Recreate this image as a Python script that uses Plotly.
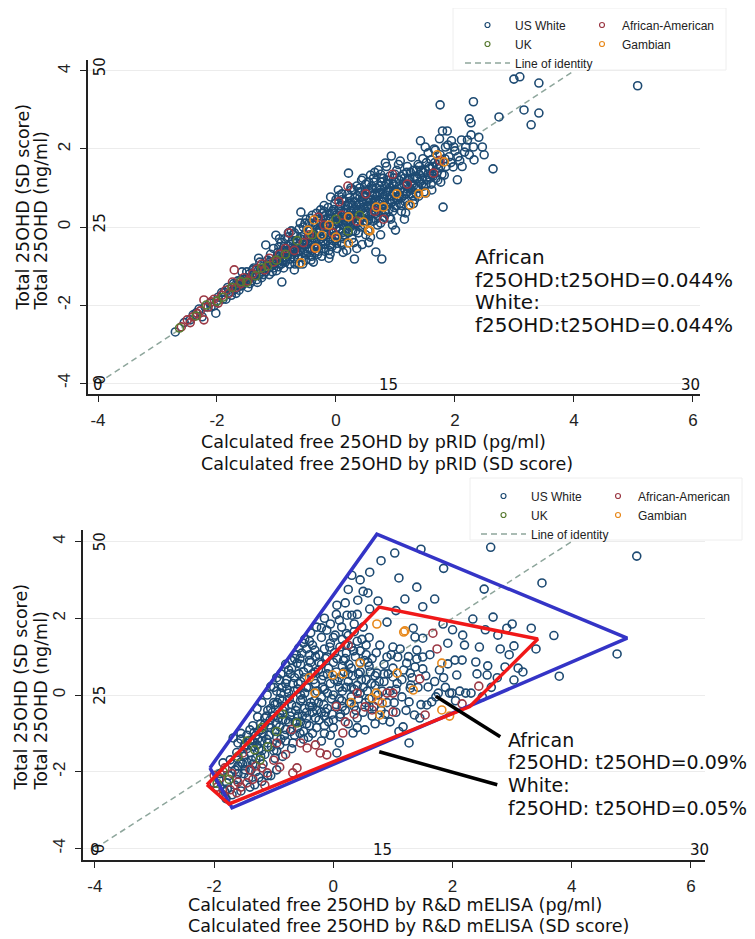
import plotly.graph_objects as go

# ---------------- data (SD scores) ----------------
p1_white = [
    (-2.70,-2.69),(-2.55,-2.45),(-2.45,-2.38),(-2.35,-2.20),(-2.25,-2.30),(-2.20,-2.05),(-2.12,-1.95),(-2.05,-2.02),
    (-2.02,-2.21),(-1.98,-1.80),(-1.92,-1.68),(-1.88,-1.67),(-1.85,-1.85),(-1.80,-1.60),(-1.76,-1.75),(-1.72,-1.45),
    (-1.70,-1.60),(-1.65,-1.38),(-1.62,-1.52),(-1.58,-1.15),(-1.55,-1.45),(-1.50,-1.30),(-1.48,-1.55),(-1.45,-1.20),
    (-1.42,-1.38),(-1.38,-1.05),(-1.35,-1.25),(-1.32,-1.42),(-1.30,-1.10),(-1.28,-0.90),(-1.25,-1.30),(-1.22,-1.00),
    (-1.18,-0.46),(-1.18,-1.15),(-1.15,-0.85),(-1.12,-1.22),(-1.10,-0.70),(-1.08,-1.00),(-1.05,-0.55),(-1.02,-0.88),
    (-1.01,-0.21),(-1.00,-1.12),(-0.98,-0.65),(-0.96,-0.51),(-0.95,-0.95),(-0.92,-0.40),(-0.91,-1.41),(-0.90,-0.78),
    (-0.88,-1.05),(-0.86,-0.30),(-0.84,-0.85),(-0.82,-0.60),(-0.80,-0.15),(-0.78,-0.95),(-0.76,-0.45),(-0.74,-0.70),
    (-0.72,-0.20),(-0.70,-1.10),(-0.68,-0.55),(-0.66,-0.35),(-0.64,-0.80),(-0.62,-0.05),(-0.60,-0.62),(-0.59,0.38),
    (-0.58,-0.25),(-0.56,-0.95),(-0.54,-0.45),(-0.52,0.10),(-0.50,-0.70),(-0.48,-0.30),(-0.46,-0.10),(-0.45,-0.55),
    (-0.43,0.22),(-0.42,-0.85),(-0.40,-0.40),(-0.38,0.05),(-0.36,-0.20),(-0.35,-0.65),(-0.33,0.35),(-0.32,-0.05),
    (-0.30,-0.50),(-0.28,0.15),(-0.26,0.44),(-0.25,-0.30),(-0.24,-0.75),(-0.22,0.00),(-0.20,0.28),(-0.18,-0.45),
    (-0.16,0.10),(-0.15,-0.20),(-0.13,0.50),(-0.12,-0.60),(-0.10,0.20),(-0.09,0.77),(-0.08,-0.10),(-0.06,0.40),
    (-0.05,-0.35),(-0.03,0.05),(-0.02,0.60),(0.00,-0.20),(0.00,0.30),(0.02,-0.55),(0.03,0.12),(0.04,0.95),
    (0.05,0.45),(0.06,-0.05),(0.08,0.25),(0.09,-0.40),(0.10,0.70),(0.12,0.05),(0.13,0.38),(0.14,-0.20),
    (0.16,0.55),(0.17,0.15),(0.18,-0.60),(0.20,0.85),(0.21,1.38),(0.22,0.30),(0.24,0.00),(0.25,0.62),
    (0.26,0.95),(0.27,-0.30),(0.28,0.20),(0.30,0.45),(0.31,-0.82),(0.32,0.75),(0.34,0.10),(0.35,1.05),
    (0.36,0.35),(0.38,-0.15),(0.39,0.58),(0.40,0.90),(0.42,0.25),(0.43,1.20),(0.44,-0.45),(0.46,0.50),
    (0.47,0.78),(0.48,0.05),(0.50,1.10),(0.51,0.40),(0.52,0.65),(0.54,-0.10),(0.55,0.95),(0.56,0.28),
    (0.58,1.33),(0.58,-0.26),(0.60,0.55),(0.61,0.80),(0.62,0.15),(0.64,1.15),(0.65,0.42),(0.66,0.70),
    (0.67,-0.64),(0.68,1.00),(0.70,0.30),(0.71,1.46),(0.72,0.60),(0.74,0.88),(0.75,0.10),(0.77,-0.82),
    (0.77,1.25),(0.78,0.50),(0.80,0.75),(0.82,1.05),(0.83,1.64),(0.84,0.35),(0.86,0.62),(0.88,0.95),
    (0.90,1.30),(0.92,0.20),(0.93,1.82),(0.94,0.80),(0.96,1.10),(0.98,0.50),(1.00,-0.08),(1.00,0.95),
    (1.02,1.45),(1.04,0.70),(1.06,1.20),(1.08,1.69),(1.10,0.40),(1.12,0.90),(1.14,1.35),(1.16,0.65),
    (1.17,0.36),(1.18,1.05),(1.20,1.55),(1.22,0.56),(1.24,1.25),(1.26,0.85),(1.27,1.79),(1.28,1.10),
    (1.30,1.45),(1.32,0.70),(1.34,1.00),(1.36,1.23),(1.38,1.60),(1.39,0.79),(1.40,1.35),(1.42,2.21),
    (1.44,1.10),(1.46,1.75),(1.48,0.90),(1.50,1.46),(1.50,2.05),(1.51,0.87),(1.53,1.20),(1.55,1.90),
    (1.57,1.50),(1.60,1.72),(1.61,0.95),(1.63,1.30),(1.65,2.00),(1.67,1.97),(1.70,1.60),(1.72,1.51),
    (1.74,2.26),(1.75,3.13),(1.76,1.15),(1.79,2.46),(1.80,0.51),(1.82,1.33),(1.84,2.05),(1.87,2.46),
    (1.90,1.80),(1.94,2.21),(1.97,1.54),(2.00,1.95),(2.04,1.21),(2.08,1.70),(2.11,2.23),(2.16,1.92),
    (2.21,2.23),(2.24,2.77),(2.24,1.85),(2.27,2.36),(2.27,2.67),(2.31,2.05),(2.31,3.21),(2.32,1.72),
    (2.40,2.30),(2.46,2.05),(2.49,1.85),(2.64,1.49),(2.74,2.82),(2.99,3.79),(3.09,3.85),(3.16,3.00),
    (3.28,2.62),(3.41,3.69),(3.41,2.92),(5.07,3.62),
    (-1.20,-1.05),(-1.10,-0.95),(-1.00,-0.78),(-0.95,-0.85),(-0.90,-0.60),(-0.85,-0.90),(-0.80,-0.70),(-0.75,-0.55),
    (-0.70,-0.80),(-0.65,-0.50),(-0.60,-0.30),(-0.55,-0.65),(-0.50,-0.45),(-0.45,-0.25),(-0.40,-0.60),(-0.35,-0.35),
    (-0.30,-0.15),(-0.25,-0.45),(-0.20,-0.20),(-0.15,0.00),(-0.10,-0.25),(-0.05,0.15),(0.00,-0.05),(0.05,0.20),
    (0.10,-0.15),(0.15,0.35),(0.20,0.10),(0.25,0.40),(0.30,0.05),(0.35,0.55),(0.40,0.20),(0.45,0.65),
    (0.50,0.30),(0.55,0.70),(0.60,0.35),(0.65,0.85),(0.70,0.50),(0.75,0.95),(0.80,0.55),(0.85,1.10),
    (0.90,0.70),(0.95,0.40),(1.00,1.15),(1.05,0.80),(1.10,1.00),(1.15,1.25),(1.20,0.90),(1.25,1.40),
    (1.30,1.05),(1.35,0.85),(1.40,1.55),(1.45,1.20),(1.55,1.35),(1.60,1.10),(1.70,1.40),(1.75,1.85),
    (1.85,1.55),(-0.60,0.10),(-0.40,0.30),(-0.20,0.55),(0.00,0.70),(0.20,0.55),(0.40,1.00),(0.60,1.05),
    (0.80,1.25),(-0.80,-0.25),(-0.55,0.00),(-0.30,0.20),(-1.30,-0.80),(-1.40,-1.10),(-1.50,-1.15),(-1.60,-1.35),
    (-1.70,-1.50),(-1.90,-1.85),(0.30,-0.40),(0.50,-0.20),(0.70,0.05),(0.90,0.25),(1.10,0.55),(1.30,0.60),
    (-0.10,-0.70),(0.10,-0.45),
]
p1_white_core = [
    (-1.25,-1.15),(-1.15,-0.95),(-1.05,-1.05),(-0.98,-0.75),(-0.92,-0.95),(-0.87,-0.50),(-0.83,-0.78),(-0.78,-0.60),
    (-0.73,-0.35),(-0.69,-0.95),(-0.65,-0.65),(-0.61,-0.45),(-0.57,-0.78),(-0.53,-0.20),(-0.49,-0.55),(-0.44,-0.05),
    (-0.41,-0.75),(-0.37,-0.28),(-0.34,0.10),(-0.31,-0.70),(-0.27,-0.05),(-0.23,0.35),(-0.21,-0.55),(-0.17,0.20),
    (-0.14,-0.35),(-0.11,0.35),(-0.07,-0.50),(-0.04,0.45),(-0.01,-0.30),(0.02,0.25),(0.05,-0.10),(0.07,0.55),
    (0.11,0.15),(0.13,-0.30),(0.15,0.65),(0.18,0.25),(0.21,-0.15),(0.23,0.75),(0.26,0.15),(0.29,0.55),
    (0.31,0.30),(0.33,-0.10),(0.36,0.80),(0.37,0.45),(0.41,0.00),(0.44,0.70),(0.47,0.35),(0.49,0.95),
    (0.52,0.15),(0.53,0.55),(0.57,0.90),(0.59,0.20),(0.62,0.65),(0.63,1.25),(0.67,0.35),(0.69,0.80),
    (0.73,1.05),(0.76,0.40),(0.79,0.85),(0.81,0.25),(0.85,0.90),(0.87,1.20),(0.89,0.45),(0.91,1.00),
    (0.95,0.65),(0.97,1.25),(1.01,0.55),(1.03,0.90),(1.07,0.60),(1.09,1.30),(1.13,0.80),(1.19,1.40),
    (1.23,1.00),(1.29,0.80),(1.33,1.30),(1.37,1.05),(1.43,1.45),(1.47,1.05),(1.52,1.65),(1.58,1.25),
    (1.62,1.55),(1.68,1.25),(1.73,1.70),(1.78,1.35),(1.83,1.75),(1.88,2.10),(1.93,1.65),(1.98,2.05),
    (2.05,1.80),(2.12,1.55),(2.18,2.05),(-0.95,-0.30),(-0.75,-0.10),(-0.50,0.20),(-0.25,0.10),(0.05,0.80),
    (0.25,1.00),(0.45,1.25),(0.65,1.40),(0.85,1.55),(1.05,1.60),(-0.62,-0.95),(-0.38,-0.90),(-0.12,-0.80),
    (0.12,-0.65),(0.35,-0.55),(0.55,-0.40),(0.75,-0.20),(0.95,0.05),(1.15,0.20),(-1.35,-1.10),(-1.45,-1.30),
    (-1.55,-1.35),(-1.65,-1.50),(-1.75,-1.65),(-1.82,-1.55),(-2.00,-1.90),(-2.10,-2.05),(-2.30,-2.10),(-2.40,-2.25),
]
p1_white_dense = [
    (-1.22,-1.22),(-1.17,-1.05),(-1.12,-0.90),(-1.07,-1.15),(-1.03,-0.95),(-0.97,-1.02),(-0.93,-0.70),(-0.89,-0.88),
    (-0.86,-0.68),(-0.81,-0.48),(-0.77,-0.82),(-0.72,-0.62),(-0.67,-0.42),(-0.63,-0.72),(-0.58,-0.52),(-0.54,-0.32),
    (-0.51,-0.85),(-0.47,-0.62),(-0.43,-0.40),(-0.39,-0.18),(-0.36,-0.50),(-0.32,-0.30),(-0.29,-0.62),(-0.26,-0.10),
    (-0.22,-0.38),(-0.19,-0.62),(-0.16,-0.12),(-0.13,0.22),(-0.09,-0.45),(-0.06,-0.05),(-0.02,0.35),(0.01,-0.42),
    (0.04,0.10),(0.08,0.40),(0.11,-0.25),(0.14,0.20),(0.17,0.45),(0.19,-0.05),(0.22,0.60),(0.25,0.25),
    (0.28,-0.10),(0.31,0.65),(0.34,0.40),(0.37,0.10),(0.40,0.75),(0.43,0.45),(0.46,0.15),(0.49,0.80),
    (0.52,0.50),(0.55,0.20),(0.58,0.70),(0.61,1.00),(0.64,0.50),(0.67,0.20),(0.70,0.85),(0.73,0.65),
    (0.76,1.15),(0.79,0.65),(0.82,0.40),(0.86,0.80),(0.89,1.10),(0.92,0.60),(0.96,0.90),(0.99,1.35),
    (1.02,0.75),(1.06,1.05),(1.10,0.75),(1.14,1.10),(1.18,0.85),(1.22,1.20),(1.27,0.95),(1.31,1.25),
    (1.35,1.45),(1.41,1.15),(1.46,1.40),(1.51,1.10),(1.56,1.55),(1.61,1.35),(1.66,1.65),(1.71,1.20),
    (1.76,1.55),(-1.45,-1.45),(-1.40,-1.25),(-1.33,-1.35),(-1.28,-1.20),(-1.52,-1.40),(-1.58,-1.50),(-1.63,-1.62),
    (-1.68,-1.70),(-0.70,-0.15),(-0.45,0.10),(-0.20,0.40),(0.10,0.85),(0.30,0.95),(0.55,1.15),(0.75,1.35),
]
p1_afam = [
    (-2.60,-2.56),(-2.50,-2.38),(-2.45,-2.45),(-2.40,-2.30),(-2.33,-2.22),(-2.28,-2.15),(-2.22,-2.38),(-2.22,-1.87),
    (-2.15,-2.05),(-2.10,-1.92),(-2.05,-1.85),(-1.98,-1.95),(-1.92,-1.75),(-1.85,-1.62),(-1.80,-1.70),(-1.74,-1.41),
    (-1.71,-1.10),(-1.68,-1.55),(-1.60,-1.45),(-1.55,-1.30),(-1.48,-1.38),(-1.40,-1.20),(-1.33,-1.08),(-1.25,-0.95),
    (-1.20,-1.10),(-1.12,-0.80),(-1.05,-0.90),(-0.95,-0.70),(-0.85,-0.55),(-0.79,-0.15),(-0.70,-0.60),(-0.55,-0.40),
    (-0.45,-0.20),(-0.35,-0.55),(-0.20,0.05),(-0.05,-0.15),(0.10,0.30),(0.20,1.05),(0.35,0.15),(0.50,0.85),
    (0.65,0.40),(0.80,0.20),(0.95,1.35),(1.20,1.10),(1.64,1.38),(1.75,1.70),(-0.30,0.25),(0.05,0.65),
]
p1_uk = [
    (-2.63,-2.59),(-2.35,-2.28),(-2.18,-2.00),(-2.00,-1.90),(-1.90,-1.80),(-1.75,-1.55),(-1.60,-1.40),(-1.50,-1.42),
    (-1.35,-1.25),(-1.15,-1.00),(-1.00,-0.85),(-0.85,-0.70),(-0.65,-0.35),(-0.40,-0.20),(0.00,0.20),(0.20,-0.10),
    (0.40,0.30),(-1.25,-1.05),
]
p1_gamb = [
    (-0.37,0.18),(-0.12,0.05),(-0.24,-0.21),(0.00,-0.26),(-0.34,-0.54),(-0.59,-0.92),(0.21,-0.41),(0.46,0.13),
    (0.55,-0.08),(0.68,0.51),(0.80,0.51),(1.02,0.85),(1.25,0.56),(1.39,0.85),(1.50,0.87),(1.70,1.85),
    (1.82,1.67),(0.21,0.26),(-0.47,-0.08),(0.57,-0.10),
]

p2_white = [
    (1.03,3.70),(1.47,3.80),(2.64,3.85),(5.09,3.62),(0.61,3.20),(1.40,2.81),(0.31,3.12),(0.58,2.66),
    (0.41,2.47),(0.75,2.45),(0.61,2.24),(0.06,2.34),(0.23,2.08),(0.31,2.08),(3.50,2.92),(2.53,2.76),
    (4.76,1.07),(3.79,0.49),(2.68,2.03),(2.34,1.98),(3.32,1.74),(3.00,1.85),(2.91,1.74),(2.76,1.56),
    (3.03,1.28),(3.10,0.70),(3.18,0.60),(2.88,0.73),(3.03,0.39),(2.59,0.76),(2.58,0.52),(2.41,0.55),
    (2.39,0.86),(2.17,1.56),(1.92,1.35),(2.04,0.91),(2.07,0.52),(2.16,0.91),(1.84,1.85),(1.92,0.81),
    (2.22,0.05),(2.31,0.05),(2.12,0.10),(1.95,0.05),(1.72,-0.05),(1.65,-0.18),(1.57,-0.26),(1.45,-0.60),
    (1.27,-1.25),(1.34,1.74),(1.37,1.51),(1.50,1.48),(1.40,1.17),(1.40,0.94),(1.50,0.99),(1.37,0.73),
    (1.50,0.68),(1.59,0.21),(1.30,0.26),(1.27,-0.18),(1.36,-0.52),(1.17,-0.83),(1.00,1.25),(0.78,1.30),
    (0.90,0.99),(1.08,0.99),(0.73,0.57),(1.00,0.47),(1.23,0.83),(1.29,0.57),(1.29,0.18),(1.76,0.05),
    (1.99,0.05),(2.80,1.20),(2.45,1.25),(2.65,0.20),(2.05,-0.15),(1.85,0.45),
    (-0.48,1.45),(-0.38,1.62),(-0.28,1.77),(-0.11,1.69),(0.14,1.77),(0.03,1.56),(0.50,1.77),(-0.20,1.50),
    (0.25,1.55),(0.40,1.40),(-0.35,1.30),(-0.05,1.35),(0.60,1.50),(0.10,1.95),(-0.15,2.00),(0.35,1.85),
    (-0.58,1.22),(-0.53,1.09),(-0.31,1.17),(-0.11,0.99),(0.11,1.25),(0.22,1.10),(0.30,1.25),(0.45,1.15),
    (0.55,1.05),(0.65,0.95),(-0.70,0.90),(-0.61,0.83),(-0.75,0.65),(-0.90,0.39),(-0.40,0.90),(-0.20,0.80),
    (0.00,0.85),(0.15,0.75),(0.30,0.70),(0.45,0.60),(0.60,0.75),(0.85,0.80),(-1.00,0.20),(-0.88,0.55),
    (-0.80,0.30),(-0.65,0.45),(-0.50,0.60),(-0.35,0.55),(-0.20,0.40),(-0.05,0.30),(0.10,0.45),(0.25,0.35),
    (0.40,0.25),(0.55,0.40),(0.70,0.25),(0.85,0.35),(0.95,0.10),(-1.11,0.00),(-1.20,-0.20),(-1.05,-0.35),
    (-0.90,-0.10),(-0.75,0.05),(-0.60,0.15),(-0.45,0.20),(-0.30,0.05),(-0.15,0.15),(0.00,0.00),(0.15,0.10),
    (0.30,-0.05),(0.45,0.05),(0.60,-0.10),(0.75,0.00),(0.90,-0.20),(1.05,0.15),(1.15,-0.05),(-1.27,-0.57),
    (-1.28,-0.35),(-1.15,-0.75),(-1.00,-0.55),(-0.85,-0.40),(-0.70,-0.25),(-0.55,-0.15),(-0.40,-0.30),(-0.25,-0.20),
    (-0.10,-0.35),(0.05,-0.25),(0.20,-0.40),(0.35,-0.30),(0.50,-0.45),(0.65,-0.55),(0.80,-0.40),(1.05,-0.45),
    (-1.40,-0.91),(-1.30,-1.05),(-1.20,-1.20),(-1.06,-0.65),(-0.90,-0.83),(-0.75,-0.70),(-0.60,-0.55),(-0.45,-0.75),
    (-0.30,-0.60),(-0.15,-0.80),(0.00,-0.65),(0.11,-0.57),(0.25,-0.75),(0.40,-0.85),(0.53,-0.91),(0.33,-0.99),
    (0.70,-0.75),(0.83,-0.65),(0.95,-0.70),(1.10,-0.95),(-1.68,-1.12),(-1.50,-1.35),(-1.55,-1.00),(-1.40,-1.50),
    (-1.25,-1.40),(-1.10,-1.25),(-0.95,-1.10),(-0.80,-1.20),(-0.65,-1.05),(-0.50,-1.15),(-0.35,-1.00),(-0.20,-1.20),
    (-0.05,-1.05),(0.10,-1.25),(0.06,-1.51),(-1.73,-1.69),(-1.85,-1.77),(-1.60,-1.85),(-1.45,-1.75),(-1.30,-1.65),
    (-1.15,-1.55),(-1.00,-1.45),(-0.85,-1.60),(-0.70,-1.40),(-1.90,-2.05),(-1.75,-2.10),(-1.62,-2.20),(-1.50,-2.05),
    (-1.38,-1.95),(-1.32,-2.34),(-1.25,-2.15),(-1.79,-2.29),(-1.85,-2.45),(-1.70,-2.60),(-1.92,-2.20),(-2.00,-2.30),
    (-1.55,-2.50),(-1.40,-2.40),(-1.20,-2.25),(-1.05,-2.10),(-0.95,-1.95),(-1.80,-2.70),
    (-0.80,0.80),(-0.55,0.35),(-0.25,0.65),(0.05,0.60),(0.20,0.95),(-0.40,1.05),(-0.65,0.95),(-0.95,0.10),
    (-0.70,-0.45),(-0.45,-0.45),(-0.20,-0.05),(0.10,-0.10),(0.35,0.15),(0.50,0.20),(-1.00,-0.20),(-0.55,0.00),
    (-0.30,0.30),(-0.10,0.55),(0.25,0.55),(0.45,0.85),(-0.85,-0.65),(-0.60,-0.85),(-0.35,-0.45),(-0.15,-0.55),
    (-1.20,-0.90),(-1.35,-1.20),(-0.90,-1.30),(-0.50,-0.95),(0.70,0.50),(0.85,0.55),(1.00,0.70),(1.15,0.40),
    (0.40,-0.60),(0.60,-0.30),(-0.40,1.40),(-0.50,1.35),(-0.62,1.05),(0.15,1.45),(-0.95,0.45),(-1.05,0.22),
]
p2_white_core = [
    (-1.60,-1.25),(-1.45,-1.05),(-1.35,-0.80),(-1.25,-0.95),(-1.15,-0.60),(-1.10,-0.40),(-1.05,-0.85),(-0.98,-0.25),
    (-0.92,-0.60),(-0.85,-0.15),(-0.80,-0.90),(-0.78,0.15),(-0.72,-0.55),(-0.68,0.30),(-0.62,-0.30),(-0.58,0.55),
    (-0.52,-0.55),(-0.48,0.05),(-0.42,0.70),(-0.38,-0.20),(-0.33,0.40),(-0.28,-0.85),(-0.24,0.85),(-0.18,0.20),
    (-0.13,-0.45),(-0.08,0.70),(-0.03,-0.10),(0.02,1.10),(0.07,0.35),(0.12,-0.50),(0.17,0.90),(0.21,0.20),
    (0.27,-0.20),(0.32,0.50),(0.37,1.00),(0.42,-0.10),(0.47,0.40),(0.52,0.90),(0.57,0.10),(0.62,0.60),
    (0.68,-0.30),(0.72,1.10),(0.77,0.35),(0.82,0.10),(0.87,-0.50),(0.92,0.55),(0.97,1.05),(1.02,-0.20),
    (1.07,0.30),(1.12,1.20),(1.18,0.65),(1.22,-0.40),(1.26,1.00),(1.32,0.45),(1.42,0.20),(1.47,-0.25),
    (1.55,0.50),(1.62,1.05),(1.70,0.35),(1.78,0.65),(1.88,0.20),(-1.50,-1.60),(-1.35,-1.35),(-1.22,-1.60),
    (-1.08,-1.05),(-0.95,-1.45),(-0.82,-1.05),(-0.68,-1.25),(-0.55,-0.70),(-0.42,-1.10),(-0.28,-0.40),(-0.15,-1.00),
    (0.00,-0.85),(0.15,-0.30),(-1.65,-1.95),(-1.52,-1.80),(-1.42,-2.15),(-1.30,-2.00),(-1.18,-1.80),(-1.10,-2.10),
    (-0.98,-1.65),(-1.82,-2.52),(-1.78,-2.45),(-1.65,-2.35),(-0.88,0.05),(-0.72,0.55),(-0.55,0.80),(-0.45,1.20),
    (-0.30,1.00),(-0.15,1.20),(0.00,1.50),(0.20,1.30),(0.35,1.65),(0.55,1.30),(-0.20,1.75),(0.05,2.10),
    (0.20,2.40),(0.40,2.10),(0.50,2.70),(-0.05,1.85),(0.25,2.75),(0.45,3.00),(1.50,2.30),(1.20,2.50),
    (1.05,2.20),(0.90,1.90),(2.00,1.70),(1.70,2.50),(2.20,1.30),(2.55,1.70),(3.40,1.20),(3.70,1.55),
    (2.95,1.05),(2.50,-0.05),(2.75,0.45),(1.10,3.05),(0.80,3.50),(1.85,3.30),
]
p2_white_dense = [
    (-1.55,-1.15),(-1.48,-1.30),(-1.40,-1.18),(-1.33,-0.98),(-1.27,-1.15),(-1.22,-0.75),(-1.18,-1.00),(-1.12,-0.55),
    (-1.08,-0.78),(-1.02,-0.45),(-0.98,-0.95),(-0.94,-0.20),(-0.90,-0.50),(-0.86,0.20),(-0.82,-0.30),(-0.78,0.40),
    (-0.74,-0.10),(-0.70,0.70),(-0.66,0.10),(-0.63,-0.40),(-0.59,0.30),(-0.56,0.95),(-0.52,-0.10),(-0.49,0.45),
    (-0.45,-0.60),(-0.42,0.20),(-0.38,0.85),(-0.35,-0.30),(-0.31,0.60),(-0.27,0.10),(-0.24,1.05),(-0.20,-0.45),
    (-0.17,0.50),(-0.13,0.95),(-0.10,0.05),(-0.06,1.25),(-0.02,-0.50),(0.02,0.40),(0.06,0.95),(0.10,0.20),
    (0.14,-0.15),(0.18,0.60),(0.22,1.60),(0.26,0.80),(0.30,0.20),(0.34,1.15),(0.38,-0.40),(0.42,0.55),
    (0.48,1.45),(0.54,-0.20),(0.58,0.85),(0.64,0.30),(-1.62,-1.50),(-1.55,-1.75),(-1.45,-1.40),(-1.37,-1.70),
    (-1.28,-1.30),(-1.20,-1.45),(-1.12,-1.15),(-1.04,-1.35),(-0.96,-0.75),(-0.88,-1.15),(-0.80,-0.65),(-0.72,-0.95),
    (-0.64,-0.70),(-0.56,-1.00),(-0.48,-0.35),(-0.40,-0.80),(-0.32,-0.15),(-0.24,-0.65),(-0.16,-0.25),(-0.08,-0.70),
    (-1.70,-1.80),(-1.60,-2.05),(-1.48,-1.95),(-1.35,-1.80),
]
p2_afam = [
    (-1.60,-2.27),(-1.45,-2.29),(-1.73,-2.47),(-1.62,-2.55),(-1.90,-2.16),(-1.82,-1.90),(-1.52,-1.51),(-0.61,-1.90),
    (-0.68,-2.03),(-0.90,-1.88),(-1.11,-2.03),(-1.20,-1.90),(-0.44,-1.38),(-0.22,-1.51),(-0.11,-1.56),(0.16,-0.99),
    (0.53,-0.31),(0.65,-0.39),(0.90,0.05),(1.00,0.05),(1.00,-0.44),(1.54,-0.52),(2.16,-0.23),(2.44,0.23),
    (1.45,0.42),(1.74,1.20),(1.67,1.61),(-1.95,-2.40),(-1.85,-2.60),(-1.55,-2.40),(-1.35,-2.20),(-1.70,-2.05),
    (-1.30,-1.85),(-1.00,-1.70),(-0.80,-1.55),(-0.55,-1.25),(-0.30,-1.30),(0.20,-0.70),(0.35,-0.50),(-0.70,-0.90),
    (-0.95,-1.25),(0.25,1.30),(0.05,-0.30),(0.40,0.05),(0.75,-0.15),(-1.15,-2.35),(-2.00,-2.10),(-1.40,-1.95),
]
p2_uk = [
    (-1.23,-1.69),(-1.32,-1.43),(-0.61,-0.73),(-0.85,-0.50),(-1.85,-2.00),(-1.60,-1.60),(-1.10,-1.35),(-1.45,-1.20),
    (-1.95,-2.30),(-0.95,-0.95),(-1.75,-2.20),(-1.20,-0.85),
]
p2_gamb = [
    (0.73,1.85),(1.20,1.67),(1.07,0.57),(1.34,0.13),(1.82,-0.39),(0.78,-0.52),(0.65,-0.08),(0.72,0.05),
    (0.82,-0.21),(-0.01,0.52),(-0.31,0.05),(0.16,0.55),(0.45,0.83),(1.82,0.83),(-0.40,0.45),(0.30,-0.20),
    (1.95,-0.55),(1.18,1.64),
]

identity_x = [-4, 4]
identity_y = [-4, 4]

sd_ticks_x = [-4, -2, 0, 2, 4, 6]
sd_ticks_y = [-4, -2, 0, 2, 4]
ng_labels = ["50", "25", "0"]
ng_pos = [4, 0, -4]
pg_labels_p1 = ["0", "15", "30"]
pg_pos_p1 = [-4, 0.89, 5.96]
pg_labels_p2 = ["0", "15", "30"]
pg_pos_p2 = [-4, 0.82, 6.15]

blue_poly = [(-2.07,-1.90),(0.73,4.19),(4.93,1.48),(-1.70,-2.94)]
red_poly = [(-2.12,-2.34),(0.77,2.29),(3.43,1.46),(2.29,-0.30),(-1.75,-2.84)]
pointer_1 = [(1.72,-0.03),(2.80,-1.09)]
pointer_2 = [(0.77,-1.48),(2.75,-2.34)]

note_p1 = ["African", "f25OHD:t25OHD=0.044%", "White:", "f25OHD:t25OHD=0.044%"]
note_p2 = ["African", "f25OHD: t25OHD=0.09%", "White:", "f25OHD: t25OHD=0.05%"]

groups = ["US White", "African-American", "UK", "Gambian"]
colors = {"US White": "#1d4a72", "African-American": "#9b3844",
          "UK": "#587a30", "Gambian": "#e8891c"}
identity_color = "#8ea69c"

# page geometry: the html body has an 8px default margin, so the figure is
# sized and positioned to land on the 755x939 window.
W, H = 755, 939
OFF = 8
FW, FH = W - OFF, H - OFF
def fx(p): return (p - OFF) / FW
def fy(p): return 1 - (p - OFF) / FH

fig = go.Figure()

panels = [
    dict(xa="x", ya="y",
         data={"US White": p1_white + p1_white_core + p1_white_dense, "African-American": p1_afam,
               "UK": p1_uk, "Gambian": p1_gamb},
         legs=("legend", "legend2")),
    dict(xa="x2", ya="y2",
         data={"US White": p2_white + p2_white_core + p2_white_dense, "African-American": p2_afam,
               "UK": p2_uk, "Gambian": p2_gamb},
         legs=("legend3", "legend4")),
]
rank = {"US White": 1, "UK": 2, "African-American": 1, "Gambian": 2}
for pan in panels:
    fig.add_trace(go.Scatter(x=identity_x, y=identity_y, mode="lines", name="Line of identity",
                             line=dict(color=identity_color, width=1.5, dash="6px,4px"),
                             xaxis=pan["xa"], yaxis=pan["ya"], legend=pan["legs"][0], legendrank=3,
                             hoverinfo="skip"))
    for g in groups:
        pts = pan["data"][g]
        leg = pan["legs"][0] if g in ("US White", "UK") else pan["legs"][1]
        fig.add_trace(go.Scatter(
            x=[p[0] for p in pts], y=[p[1] for p in pts], mode="markers", name=g, showlegend=False,
            marker=dict(symbol="circle-open", size=8, color=colors[g], line=dict(width=1.6)),
            xaxis=pan["xa"], yaxis=pan["ya"]))
        # small legend swatch (no data points)
        fig.add_trace(go.Scatter(
            x=[None], y=[None], mode="markers", name=g,
            marker=dict(symbol="circle-open", size=5, color=colors[g], line=dict(width=1.2)),
            xaxis=pan["xa"], yaxis=pan["ya"], legend=leg, legendrank=rank[g], hoverinfo="skip"))

# outlines drawn on panel 2
for poly, col in ((blue_poly, "#3434c6"), (red_poly, "#f01818")):
    closed = poly + [poly[0]]
    fig.add_trace(go.Scatter(x=[p[0] for p in closed], y=[p[1] for p in closed], mode="lines",
                             line=dict(color=col, width=3.5), showlegend=False,
                             xaxis="x2", yaxis="y2", hoverinfo="skip"))

for ptr in (pointer_1, pointer_2):
    fig.add_shape(type="line", xref="x2", yref="y2", x0=ptr[0][0], y0=ptr[0][1], x1=ptr[1][0], y1=ptr[1][1],
                  line=dict(color="black", width=3.5))

tickfont = dict(family="Liberation Sans, Arial", size=17, color="#222")
ax_common = dict(showline=True, linecolor="#222", linewidth=1.5, ticks="outside", ticklen=6, tickwidth=1.3,
                 tickcolor="#222", tickfont=tickfont, zeroline=False, mirror=False, fixedrange=True)
xlab = [str(v) for v in sd_ticks_x]
ylab = [str(v) for v in sd_ticks_y]

fig.update_layout(
    width=FW, height=FH, margin=dict(l=0, r=0, t=0, b=0),
    paper_bgcolor="white", plot_bgcolor="white",
    xaxis=dict(domain=[fx(88), fx(700)], range=[-4.168, 6.118], anchor="y", tickvals=sd_ticks_x, ticktext=xlab,
               showgrid=False, ticklabelstandoff=4, **ax_common),
    yaxis=dict(domain=[fy(394), fy(60)], range=[-4.28, 4.28], anchor="x", tickvals=sd_ticks_y, ticktext=ylab,
               showgrid=True, gridcolor="#ececec", gridwidth=1, tickangle=-90, ticklabelstandoff=3, **ax_common),
    xaxis2=dict(domain=[fx(83), fx(705)], range=[-4.20, 6.235], anchor="y2", tickvals=sd_ticks_x, ticktext=xlab,
                showgrid=False, ticklabelstandoff=4, **ax_common),
    yaxis2=dict(domain=[fy(860), fy(530)], range=[-4.30, 4.30], anchor="x2", tickvals=sd_ticks_y, ticktext=ylab,
                showgrid=True, gridcolor="#ececec", gridwidth=1, tickangle=-90, ticklabelstandoff=3, **ax_common),
    showlegend=True,
)

leg_common = dict(font=dict(family="Liberation Sans, Arial", size=12, color="#222"), bgcolor="rgba(0,0,0,0)",
                  borderwidth=0, orientation="v", xanchor="left", yanchor="top", itemsizing="trace",
                  tracegroupgap=0, traceorder="normal")
fig.update_layout(
    legend=dict(x=fx(460), y=fy(10.5), itemwidth=45, **leg_common),
    legend2=dict(x=fx(582), y=fy(10.5), itemwidth=30, **leg_common),
    legend3=dict(x=fx(476), y=fy(481.5), itemwidth=45, **leg_common),
    legend4=dict(x=fx(598), y=fy(481.5), itemwidth=30, **leg_common),
)

# faint legend boxes
for x0, x1, y0, y1 in ((453, 726, 8, 70), (470, 742, 478, 540)):
    fig.add_shape(type="rect", xref="paper", yref="paper", x0=fx(x0), x1=fx(x1), y0=fy(y1), y1=fy(y0),
                  line=dict(color="#eeeeee", width=1), layer="below")

ann = []
tfont = dict(family="DejaVu Sans", size=17.5, color="#111")
for (xc, yb, txt) in ((22, 313, "Total 25OHD (SD score)"), (40, 313, "Total 25OHD (ng/ml)"),
                      (20, 793, "Total 25OHD (SD score)"), (40, 793, "Total 25OHD (ng/ml)")):
    ann.append(dict(xref="paper", yref="paper", x=fx(xc), y=fy(yb), text=txt, textangle=-90,
                    xanchor="center", yanchor="bottom", showarrow=False, font=tfont))
for (xl, yc, txt) in ((199, 442, "Calculated free 25OHD by pRID (pg/ml)"),
                      (199, 464, "Calculated free 25OHD by pRID (SD score)"),
                      (186, 905, "Calculated free 25OHD by R&amp;D mELISA (pg/ml)"),
                      (186, 926, "Calculated free 25OHD by R&amp;D mELISA (SD score)")):
    ann.append(dict(xref="paper", yref="paper", x=fx(xl), y=fy(yc), text=txt,
                    xanchor="left", yanchor="middle", showarrow=False, font=tfont))

sfont = dict(family="DejaVu Sans", size=15, color="#111")
for xa, ya, xpos, yshift in (("x", "y", -3.96, 4), ("x2", "y2", -3.92, 0)):
    for lab, pos in zip(ng_labels, ng_pos):
        ann.append(dict(xref=xa, yref=ya, x=xpos, y=pos, text=lab, textangle=-90, xanchor="center",
                        yanchor="middle", yshift=yshift, showarrow=False, font=sfont))
for xa, ya, labs, poss in (("x", "y", pg_labels_p1, pg_pos_p1), ("x2", "y2", pg_labels_p2, pg_pos_p2)):
    for lab, pos in zip(labs, poss):
        ann.append(dict(xref=xa, yref=ya, x=pos, y=-4, text=lab, xanchor="center", yanchor="middle",
                        yshift=-2, showarrow=False, font=sfont))

for txt, yy in zip(note_p1, (-0.77, -1.36, -1.92, -2.51)):
    ann.append(dict(xref="x", yref="y", x=2.31, y=yy, text=txt, xanchor="left", yanchor="middle",
                    showarrow=False, font=dict(family="DejaVu Sans", size=20, color="#111")))
for txt, yy in zip(note_p2, (-1.17, -1.74, -2.34, -2.94)):
    ann.append(dict(xref="x2", yref="y2", x=2.89, y=yy, text=txt, xanchor="left", yanchor="middle",
                    showarrow=False, font=dict(family="DejaVu Sans", size=19, color="#111")))

fig.update_layout(annotations=ann)
fig.write_html("out.html")
